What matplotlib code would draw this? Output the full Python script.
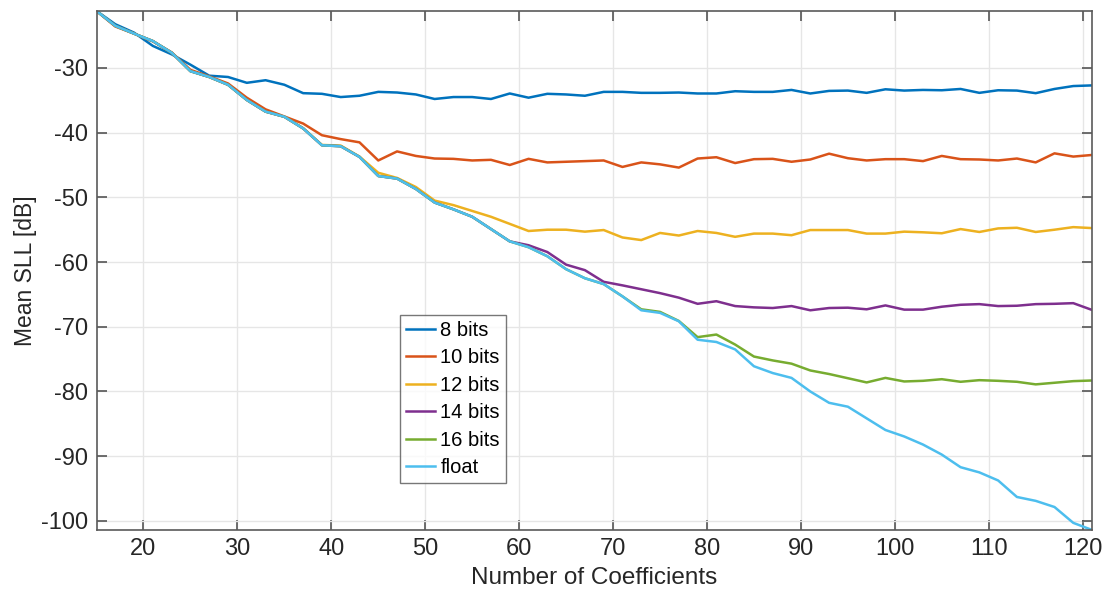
import matplotlib
matplotlib.use('Agg')
import matplotlib.pyplot as plt

plt.rcParams['font.family'] = ['Liberation Sans', 'DejaVu Sans']
plt.rcParams['axes.unicode_minus'] = False

# number of filter coefficients (odd lengths)
n_coef = [15, 17, 19, 21, 23, 25, 27, 29, 31, 33, 35, 37, 39, 41, 43, 45, 47, 49,
          51, 53, 55, 57, 59, 61, 63, 65, 67, 69, 71, 73, 75, 77, 79, 81, 83, 85,
          87, 89, 91, 93, 95, 97, 99, 101, 103, 105, 107, 109, 111, 113, 115, 117, 119, 121]

sll_8 = [-21.2, -23.25, -24.55, -26.6, -27.9, -29.5, -31.2, -31.4, -32.3, -31.9, -32.6, -33.9,
         -34.0, -34.5, -34.3, -33.7, -33.8, -34.1, -34.8, -34.5, -34.5, -34.8, -33.95, -34.6,
         -34.0, -34.1, -34.3, -33.7, -33.7, -33.85, -33.85, -33.8, -33.95, -33.95, -33.6, -33.7,
         -33.7, -33.4, -33.95, -33.55, -33.5, -33.85, -33.3, -33.5, -33.4, -33.45, -33.25, -33.85,
         -33.45, -33.5, -33.9, -33.25, -32.8, -32.7]

sll_10 = [-21.2, -23.6, -24.7, -25.9, -27.6, -30.3, -31.3, -32.4, -34.6, -36.4, -37.5, -38.6,
          -40.4, -41.0, -41.5, -44.3, -42.9, -43.6, -44.0, -44.05, -44.3, -44.2, -45.0, -44.05,
          -44.6, -44.5, -44.4, -44.3, -45.3, -44.6, -44.9, -45.4, -44.0, -43.8, -44.7, -44.1,
          -44.05, -44.5, -44.15, -43.25, -43.95, -44.3, -44.1, -44.1, -44.4, -43.6, -44.1, -44.15,
          -44.3, -44.0, -44.6, -43.2, -43.7, -43.45]

sll_12 = [-21.2, -23.5, -24.7, -25.85, -27.65, -30.5, -31.4, -32.6, -34.95, -36.75, -37.55, -39.3,
          -41.9, -42.0, -43.7, -46.2, -47.0, -48.4, -50.5, -51.2, -52.1, -53.0, -54.1, -55.2,
          -55.0, -55.0, -55.3, -55.05, -56.2, -56.6, -55.5, -55.9, -55.2, -55.5, -56.1, -55.6,
          -55.6, -55.85, -55.05, -55.05, -55.05, -55.6, -55.6, -55.3, -55.4, -55.55, -54.9, -55.35,
          -54.8, -54.7, -55.35, -55.0, -54.6, -54.75]

sll_14 = [-21.2, -23.5, -24.7, -25.85, -27.65, -30.5, -31.4, -32.6, -34.95, -36.75, -37.55, -39.35,
          -41.95, -42.1, -43.75, -46.7, -47.1, -48.7, -50.8, -51.85, -53.0, -54.9, -56.8, -57.4,
          -58.45, -60.4, -61.25, -63.05, -63.6, -64.2, -64.8, -65.5, -66.45, -66.05, -66.8, -67.0,
          -67.1, -66.8, -67.45, -67.1, -67.05, -67.3, -66.7, -67.35, -67.35, -66.9, -66.6, -66.5,
          -66.8, -66.75, -66.5, -66.45, -66.35, -67.4]

sll_16 = [-21.2, -23.5, -24.7, -25.85, -27.65, -30.5, -31.4, -32.6, -34.95, -36.75, -37.55, -39.35,
          -41.95, -42.1, -43.75, -46.7, -47.1, -48.7, -50.8, -51.85, -53.0, -54.9, -56.8, -57.7,
          -59.1, -61.1, -62.5, -63.4, -65.3, -67.3, -67.7, -69.1, -71.6, -71.2, -72.75, -74.6,
          -75.2, -75.7, -76.75, -77.3, -77.95, -78.6, -77.9, -78.45, -78.35, -78.1, -78.5, -78.25,
          -78.35, -78.5, -78.9, -78.65, -78.4, -78.3]

sll_float = [-21.2, -23.5, -24.7, -25.85, -27.65, -30.5, -31.4, -32.6, -34.95, -36.75, -37.55, -39.35,
             -41.95, -42.1, -43.75, -46.7, -47.1, -48.7, -50.8, -51.85, -53.0, -54.9, -56.8, -57.7,
             -59.1, -61.1, -62.5, -63.4, -65.3, -67.45, -67.85, -69.15, -72.0, -72.35, -73.5, -76.1,
             -77.15, -77.9, -80.0, -81.75, -82.35, -84.15, -85.95, -86.95, -88.2, -89.75, -91.7, -92.5,
             -93.75, -96.3, -96.9, -97.85, -100.3, -101.4]

series = [('8 bits', sll_8, '#0072BD'),
          ('10 bits', sll_10, '#D95319'),
          ('12 bits', sll_12, '#EDB120'),
          ('14 bits', sll_14, '#7E2F8E'),
          ('16 bits', sll_16, '#77AC30'),
          ('float', sll_float, '#4DBEEE')]

fig = plt.figure(figsize=(11.07, 6), dpi=100)
ax = fig.add_axes([0.0872, 0.1167, 0.8993, 0.865])

for name, vals, col in series:
    ax.plot(n_coef, vals, color=col, lw=1.8, label=name)

ax.set_xlim(15, 121)
ax.set_ylim(-101.4, -21.2)
ax.set_xticks(range(20, 121, 10))
ax.set_yticks(range(-100, -29, 10))

ax.grid(True, color='#e6e6e6', lw=1.0)
ax.set_axisbelow(True)
ax.tick_params(direction='in', length=7, width=1.2, color='#555555',
               labelsize=17, labelcolor='#262626', top=True, right=True, pad=6)
for s in ax.spines.values():
    s.set_color('#5a5a5a')
    s.set_linewidth(1.2)

ax.set_xlabel('Number of Coefficients', fontsize=17.5, color='#262626', labelpad=5)
ax.set_ylabel('Mean SLL [dB]', fontsize=16.5, color='#262626', labelpad=3)

leg = ax.legend(loc='lower left', bbox_to_anchor=(0.305, 0.09), fontsize=14.5,
                frameon=True, fancybox=False, handlelength=1.45, handletextpad=0.25,
                borderpad=0.3, labelspacing=0.42, borderaxespad=0)
leg.get_frame().set_edgecolor('#555555')
leg.get_frame().set_linewidth(1.0)

plt.savefig('out.png', dpi=100)
